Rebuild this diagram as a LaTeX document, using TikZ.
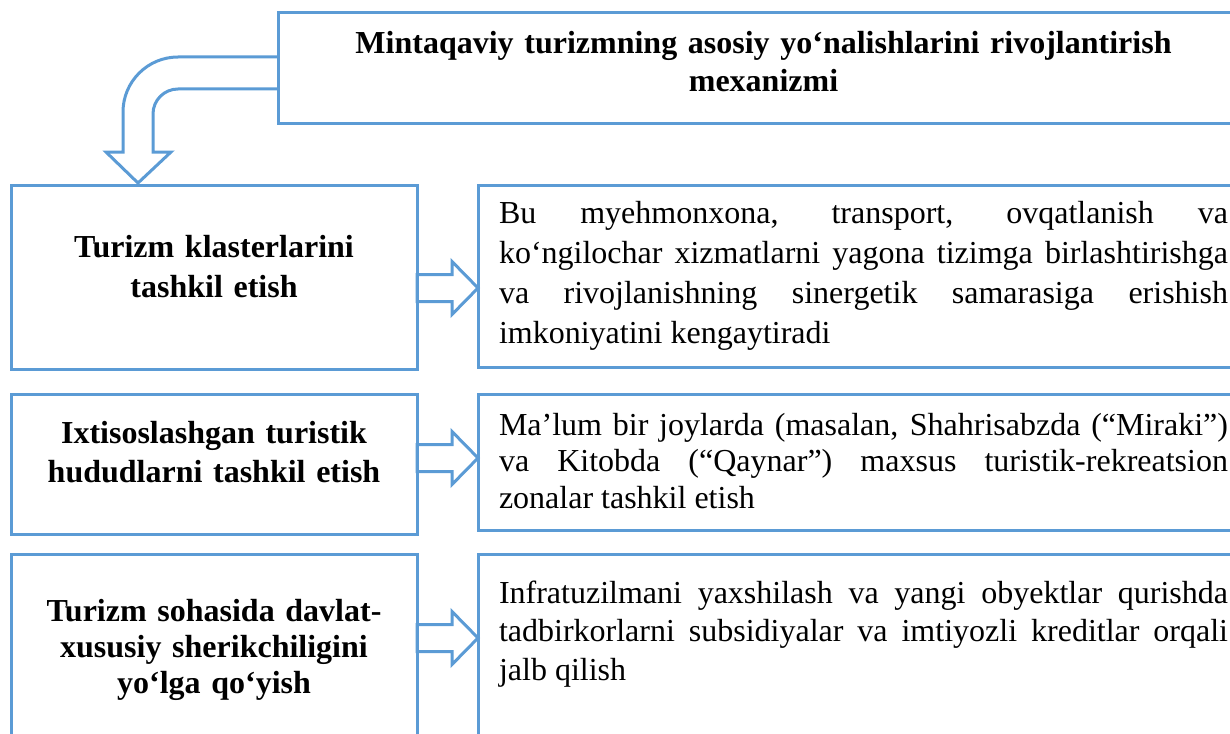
\documentclass[tikz,border=0pt]{standalone}
\usepackage{fontspec}
\setmainfont{Liberation Serif}
\usetikzlibrary{calc,positioning}
\definecolor{boxblue}{RGB}{91,155,213}
\hyphenpenalty=10000
\exhyphenpenalty=10000
\emergencystretch=3em
\tikzset{
    node distance = 25pt and 61pt,
    box/.style = {rectangle, draw=boxblue, line width=3pt, outer sep=0pt, inner ysep=0pt, anchor=north west},
    goal/.style = {box, text width=951pt, inner xsep=10pt, align=center, font={\fontsize{32}{38}\selectfont\bfseries}},
    task/.style = {box, text width=386pt, inner xsep=10pt, align=center, font={\fontsize{32}{40}\selectfont\bfseries}},
    note/.style = {box, text width=729pt, inner xsep=21pt, align=justify, font={\fontsize{32}{40}\selectfont}},
    pipe/.style = {draw=boxblue, line width=3pt, line join=miter},
    flow/.style = {pipe, to path={
        ($(\tikztostart)+(0,-13.5)$) -- ($(\tikztotarget)+(-26,-13.5)$)
        -- ($(\tikztotarget)+(-26,-26.5)$) -- (\tikztotarget)
        -- ($(\tikztotarget)+(-26,26.5)$) -- ($(\tikztotarget)+(-26,13.5)$)
        -- ($(\tikztostart)+(0,13.5)$) -- cycle}}
}
\begin{document}
\begin{tikzpicture}[x=1pt, y=-1pt]
    \useasboundingbox (0,0) rectangle (1230,733);

    % title box, cut by the right edge
    \node[goal, text height=41pt, text depth=69pt] (mech) at (278,13)
        {Mintaqaviy turizmning asosiy yo‘nalishlarini rivojlantirish\\ mexanizmi};

    % left column
    \node[task, text height=72pt, text depth=112pt] (klaster) at (11,185)
        {Turizm klasterlarini\\ tashkil etish};
    \node[task, text height=49pt, text depth=91pt, font={\fontsize{32}{39}\selectfont\bfseries}] (hudud) [below = of klaster]
        {Ixtisoslashgan turistik\\ hududlarni tashkil etish};
    \node[task, text height=67pt, text depth=124pt, font={\fontsize{32}{36}\selectfont\bfseries}] (hamkor) [below = 20pt of hudud]
        {Turizm sohasida davlat-\\ xususiy sherikchiligini\\ yo‘lga qo‘yish};

    % right column
    \node[note, text height=38pt, text depth=144pt] (tizim) [right = of klaster.north east, anchor=north west]
        {Bu myehmonxona, transport, ovqatlanish va\linebreak ko‘ngilochar xizmatlarni yagona tizimga birlashtirishga\linebreak va rivojlanishning sinergetik samarasiga erishish\linebreak imkoniyatini kengaytiradi};
    \node[note, text height=41pt, text depth=95pt, font={\fontsize{32}{36.5}\selectfont}] (zona) [right = of hudud.north east, anchor=north west]
        {Ma’lum bir joylarda (masalan, Shahrisabzda (“Miraki”)\linebreak va Kitobda (“Qaynar”) maxsus turistik-rekreatsion\linebreak zonalar tashkil etish};
    \node[note, text height=49pt, text depth=157pt, font={\fontsize{32}{38.5}\selectfont}] (kredit) [right = of hamkor.north east, anchor=north west]
        {Infratuzilmani yaxshilash va yangi obyektlar qurishda\linebreak tadbirkorlarni subsidiyalar va imtiyozli kreditlar orqali\linebreak jalb qilish};

    % bent arrow from the title down to the first box
    \draw[pipe] ([yshift=11pt]mech.west) -- ++(-100,0) arc (90:180:55pt) -- ++(0,40) -- ++(-17,0)
        -- ([xshift=-76pt,yshift=2pt]klaster.north) -- ++(33,-31) -- ++(-18,0) -- ++(0,-38)
        arc (180:90:25pt) -- ++(100,0);

    % block arrows
    \coordinate (s1) at ([yshift=-11pt]klaster.east);
    \coordinate (s2) at ([yshift=6pt]hudud.east);
    \coordinate (s3) at ([yshift=11.5pt]hamkor.east);
    \path (s1) edge[flow] (s1 -| tizim.west);
    \path (s2) edge[flow] (s2 -| zona.west);
    \path (s3) edge[flow] (s3 -| kredit.west);

\end{tikzpicture}
\end{document}
